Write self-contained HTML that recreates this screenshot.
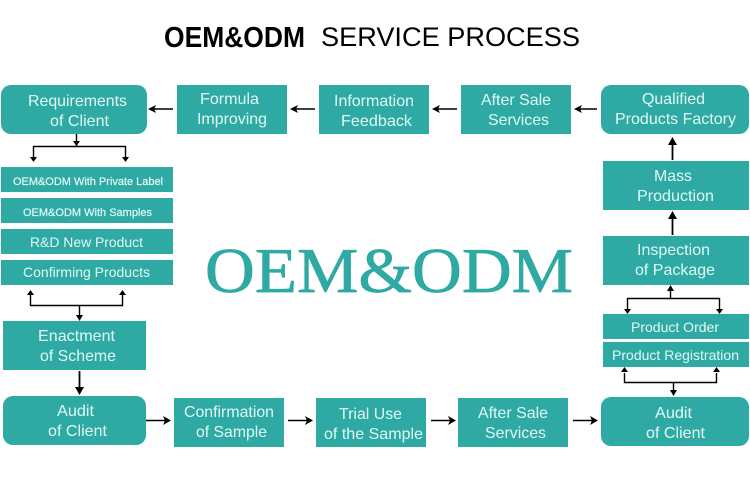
<!DOCTYPE html>
<html><head><meta charset="utf-8"><style>
html,body{margin:0;padding:0;background:#fff}
svg{display:block;filter:blur(.3px)}
text{font-family:"Liberation Sans",sans-serif;fill:#dffaf5;font-size:16px}
.b{fill:#2fa9a3}
.l{stroke:#000;stroke-width:1.4;fill:none}
.a{fill:#000}
</style></head><body>
<svg width="750" height="486" viewBox="0 0 750 486" xmlns="http://www.w3.org/2000/svg">
<text x="164" y="47" textLength="141" lengthAdjust="spacingAndGlyphs" style="font-size:29px;font-weight:bold;fill:#000">OEM&amp;ODM</text>
<text x="321" y="46" textLength="259" lengthAdjust="spacingAndGlyphs" style="font-size:27px;fill:#000">SERVICE PROCESS</text>
<text x="205" y="292" textLength="368" lengthAdjust="spacingAndGlyphs" style="font-family:'Liberation Serif',serif;font-size:64px;fill:#2fa9a3;stroke:#2fa9a3;stroke-width:.7">OEM&amp;ODM</text>

<rect class="b" x="1" y="85" width="146" height="49" rx="10"/>
<rect class="b" x="177" y="85" width="110" height="49"/>
<rect class="b" x="319" y="85" width="110" height="49"/>
<rect class="b" x="461" y="85" width="110" height="49"/>
<rect class="b" x="601" y="85" width="148" height="49" rx="10"/>
<rect class="b" x="1" y="167" width="172" height="25"/>
<rect class="b" x="1" y="198" width="172" height="25"/>
<rect class="b" x="1" y="229" width="172" height="25"/>
<rect class="b" x="1" y="260" width="172" height="25"/>
<rect class="b" x="3" y="321" width="143" height="49"/>
<rect class="b" x="3" y="396" width="143" height="49" rx="10"/>
<rect class="b" x="174" y="398" width="110" height="49"/>
<rect class="b" x="316" y="398" width="110" height="49"/>
<rect class="b" x="458" y="398" width="110" height="49"/>
<rect class="b" x="601" y="397" width="148" height="49" rx="10"/>
<rect class="b" x="603" y="161" width="146" height="49"/>
<rect class="b" x="603" y="236" width="146" height="49"/>
<rect class="b" x="603" y="314" width="146" height="25"/>
<rect class="b" x="603" y="342" width="146" height="25"/>

<text x="28" y="106" textLength="99" lengthAdjust="spacingAndGlyphs">Requirements</text>
<text x="50" y="126" textLength="59" lengthAdjust="spacingAndGlyphs">of Client</text>
<text x="200" y="104" textLength="59" lengthAdjust="spacingAndGlyphs">Formula</text>
<text x="197" y="124" textLength="70" lengthAdjust="spacingAndGlyphs">Improving</text>
<text x="334" y="106" textLength="80" lengthAdjust="spacingAndGlyphs">Information</text>
<text x="341" y="126" textLength="71" lengthAdjust="spacingAndGlyphs">Feedback</text>
<text x="481" y="105" textLength="70" lengthAdjust="spacingAndGlyphs">After Sale</text>
<text x="488" y="125" textLength="61" lengthAdjust="spacingAndGlyphs">Services</text>
<text x="642" y="104" textLength="63" lengthAdjust="spacingAndGlyphs">Qualified</text>
<text x="615" y="124" textLength="121" lengthAdjust="spacingAndGlyphs">Products Factory</text>

<text x="13" y="185" textLength="150" lengthAdjust="spacingAndGlyphs" style="font-size:11px;stroke:#dffaf5;stroke-width:.2">OEM&amp;ODM With Private Label</text>
<text x="23" y="216" textLength="129" lengthAdjust="spacingAndGlyphs" style="font-size:11px;stroke:#dffaf5;stroke-width:.2">OEM&amp;ODM With Samples</text>
<text x="30" y="247" textLength="113" lengthAdjust="spacingAndGlyphs" style="font-size:14px">R&amp;D New Product</text>
<text x="23" y="277" textLength="127" lengthAdjust="spacingAndGlyphs" style="font-size:14px">Confirming Products</text>

<text x="38" y="341" textLength="77" lengthAdjust="spacingAndGlyphs">Enactment</text>
<text x="40" y="361" textLength="76" lengthAdjust="spacingAndGlyphs">of Scheme</text>
<text x="57" y="416" textLength="37" lengthAdjust="spacingAndGlyphs">Audit</text>
<text x="48" y="436" textLength="59" lengthAdjust="spacingAndGlyphs">of Client</text>

<text x="184" y="417" textLength="90" lengthAdjust="spacingAndGlyphs">Confirmation</text>
<text x="196" y="437" textLength="71" lengthAdjust="spacingAndGlyphs">of Sample</text>
<text x="339" y="419" textLength="63" lengthAdjust="spacingAndGlyphs">Trial Use</text>
<text x="324" y="439" textLength="99" lengthAdjust="spacingAndGlyphs">of the Sample</text>
<text x="478" y="418" textLength="70" lengthAdjust="spacingAndGlyphs">After Sale</text>
<text x="485" y="438" textLength="61" lengthAdjust="spacingAndGlyphs">Services</text>
<text x="655" y="418" textLength="37" lengthAdjust="spacingAndGlyphs">Audit</text>
<text x="646" y="438" textLength="59" lengthAdjust="spacingAndGlyphs">of Client</text>

<text x="654" y="181" textLength="38" lengthAdjust="spacingAndGlyphs">Mass</text>
<text x="637" y="201" textLength="77" lengthAdjust="spacingAndGlyphs">Production</text>
<text x="637" y="255" textLength="73" lengthAdjust="spacingAndGlyphs">Inspection</text>
<text x="635" y="275" textLength="80" lengthAdjust="spacingAndGlyphs">of Package</text>
<text x="631" y="332" textLength="88" lengthAdjust="spacingAndGlyphs" style="font-size:14px">Product Order</text>
<text x="612" y="360" textLength="127" lengthAdjust="spacingAndGlyphs" style="font-size:14px">Product Registration</text>

<!-- top row arrows -->
<path class="l" d="M173 109H153M315 109H295M457 109H437M597 109H578"/>
<polygon class="a" points="148,109 156,105 154,109 156,113"/>
<polygon class="a" points="290,109 298,105 296,109 298,113"/>
<polygon class="a" points="432,109 440,105 438,109 440,113"/>
<polygon class="a" points="574,109 582,105 580,109 582,113"/>

<!-- requirements split -->
<path class="l" d="M76.500 134V146M33.500 158V146.500H125.500V158"/>
<polygon class="a" points="76.500,146 73,141 80,141"/>
<polygon class="a" points="33.500,162 30,157 37,157"/>
<polygon class="a" points="125.500,162 122,157 129,157"/>

<!-- confirming merge -->
<path class="l" d="M30.500 295V305.500H122.500V295M79.500 305.500V316"/>
<polygon class="a" points="30.500,290 27,295 34,295"/>
<polygon class="a" points="122.500,290 119,295 126,295"/>
<polygon class="a" points="79.500,321 76,315 83,315"/>

<!-- enactment to audit -->
<path class="l" d="M79.500 371V390" style="stroke-width:1.800"/>
<polygon class="a" points="79.500,395 75,387 84,387"/>

<!-- bottom row arrows -->
<path class="l" d="M146 420.500H167M288 420.500H309M431 420.500H451M573 420.500H593" style="stroke-width:1.600"/>
<polygon class="a" points="171,420.500 163,416 165,420.500 163,425"/>
<polygon class="a" points="313,420.500 305,416 307,420.500 305,425"/>
<polygon class="a" points="456,420.500 448,416 450,420.500 448,425"/>
<polygon class="a" points="598,420.500 590,416 592,420.500 590,425"/>

<!-- right column -->
<path class="l" d="M672.500 160V142M672.500 235V216" style="stroke-width:1.800"/>
<polygon class="a" points="672.500,137 668,145 677,145"/>
<polygon class="a" points="672.500,211 668,219 677,219"/>
<path class="l" d="M670.500 298.500V291M627.500 310V298.500H719.500V310"/>
<polygon class="a" points="670.500,285 667,291 674,291"/>
<polygon class="a" points="627.500,314 624,309 631,309"/>
<polygon class="a" points="719.500,314 716,309 723,309"/>
<path class="l" d="M624.500 373V382.500H716.500V373M673.500 382.500V391"/>
<polygon class="a" points="624.500,367 621,372 628,372"/>
<polygon class="a" points="716.500,367 713,372 720,372"/>
<polygon class="a" points="673.500,396 670,390 677,390"/>
</svg>
</body></html>
